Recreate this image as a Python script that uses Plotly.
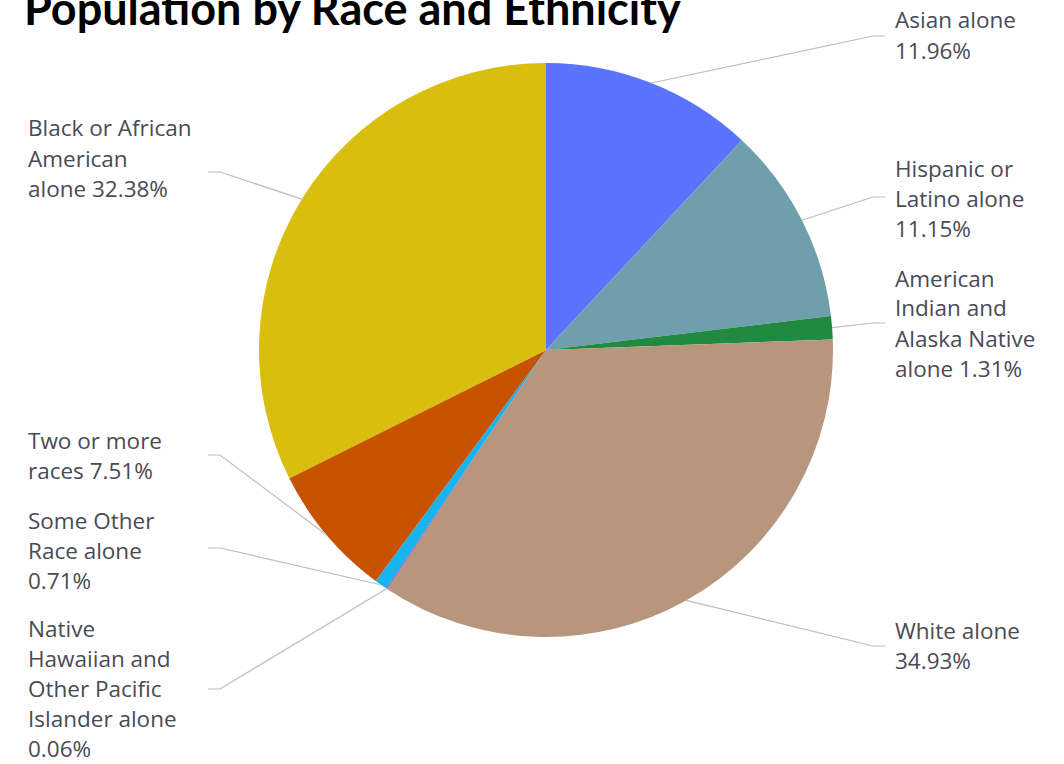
import math
import plotly.graph_objects as go

# ---- data ----
categories = [
    "Asian alone",
    "Hispanic or Latino alone",
    "American Indian and Alaska Native alone",
    "White alone",
    "Native Hawaiian and Other Pacific Islander alone",
    "Some Other Race alone",
    "Two or more races",
    "Black or African American alone",
]
values = [11.96, 11.15, 1.31, 34.93, 0.06, 0.71, 7.51, 32.38]
colors = ["#5A74FF", "#6F9FAD", "#1F8A40", "#B8957D", "#7B4FD6", "#18B4EE", "#C75200", "#D8BF0E"]
label_lines = [
    ["Asian alone", "11.96%"],
    ["Hispanic or", "Latino alone", "11.15%"],
    ["American", "Indian and", "Alaska Native", "alone 1.31%"],
    ["White alone", "34.93%"],
    ["Native", "Hawaiian and", "Other Pacific", "Islander alone", "0.06%"],
    ["Some Other", "Race alone", "0.71%"],
    ["Two or more", "races 7.51%"],
    ["Black or African", "American", "alone 32.38%"],
]
title_text = "Population by Race and Ethnicity"

# ---- layout (pixel placement) ----
W, H = 1064, 764
CX, CY, R = 546, 350, 287
label_first_y = [20, 168, 278, 630, 628, 520, 440, 128]
leader_y = [36, 197, 323, 646, 689, 548, 455, 172]
LINE_H = 30
FONT = "Open Sans"
FS = 22.5

def px(x):
    return x / W

def py(y):
    return 1 - y / H

fig = go.Figure(go.Pie(
    labels=categories, values=values, sort=False, direction="clockwise", rotation=0,
    marker=dict(colors=colors, line=dict(width=0)), textinfo="none", hoverinfo="label+percent",
    domain=dict(x=[px(CX - R), px(CX + R)], y=[py(CY + R), py(CY - R)]),
    showlegend=False,
))

total = sum(values)
cum = 0.0
shapes = []
annotations = []
for i, v in enumerate(values):
    mid = (cum + v / 2) / total * 2 * math.pi
    cum += v
    ex = CX + R * math.sin(mid)
    ey = CY - R * math.cos(mid)
    right = math.sin(mid) > 0
    if right:
        elbow_x, end_x, text_x = 873, 885, 893
    else:
        elbow_x, end_x, text_x = 220, 208, 26
    ly = leader_y[i]
    path = f"M {px(ex)},{py(ey)} L {px(elbow_x)},{py(ly)} L {px(end_x)},{py(ly)}"
    shapes.append(dict(type="path", path=path, xref="paper", yref="paper",
                       line=dict(color="#BDBDBD", width=1.2)))
    for j, line in enumerate(label_lines[i]):
        annotations.append(dict(
            text=line, x=px(text_x), y=py(label_first_y[i] + j * LINE_H),
            xref="paper", yref="paper", xanchor="left", yanchor="middle",
            showarrow=False, font=dict(family=FONT, size=FS, color="#4A4A55"),
        ))

annotations.append(dict(
    text=f"<b>{title_text}</b>", x=px(22), y=py(8), xref="paper", yref="paper",
    xanchor="left", yanchor="middle", showarrow=False,
    font=dict(family="Lato", size=45, color="#000000"),
))

fig.update_layout(
    width=W, height=H, margin=dict(l=0, r=0, t=0, b=0),
    paper_bgcolor="white", plot_bgcolor="white",
    shapes=shapes, annotations=annotations,
)
fig.write_html("out.html", config={"displayModeBar": False},
               post_script="document.body.style.margin='0';document.body.style.overflow='hidden';")
